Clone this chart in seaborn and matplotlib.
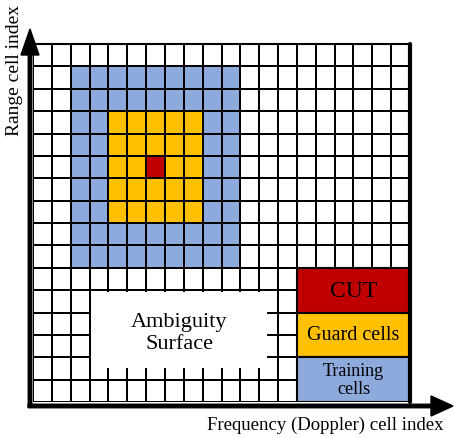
import numpy as np
import pandas as pd
import matplotlib
matplotlib.use("Agg")
import matplotlib.pyplot as plt
from matplotlib.colors import ListedColormap
from matplotlib.patches import Rectangle, FancyArrow
import seaborn as sns

# grid of range x doppler cells
n_rows = 16
n_cols = 20
cut_cell = (5, 6)        # (row, col) of the cell under test
guard_radius = 2         # guard cells each side of CUT
training_radius = 4      # training cells reach this far from CUT

legend_labels = ["CUT", "Guard cells", "Training\ncells"]
legend_codes = [3, 2, 1]
cell_colors = ["white", "#8EA9DB", "#FFC000", "#C00000"]

x_label = "Frequency (Doppler) cell index"
y_label = "Range cell index"
surface_label = "Ambiguity\nSurface"


def build_grid():
    grid = np.zeros((n_rows, n_cols), dtype=int)
    r0, c0 = cut_cell
    grid[r0 - training_radius:r0 + training_radius + 1,
         c0 - training_radius:c0 + training_radius + 1] = 1
    grid[r0 - guard_radius:r0 + guard_radius + 1,
         c0 - guard_radius:c0 + guard_radius + 1] = 2
    grid[r0, c0] = 3
    return pd.DataFrame(grid)


def main():
    sns.set_theme(style="white")
    plt.rcParams['font.family'] = ['Liberation Serif', 'DejaVu Serif']
    plt.rcParams['text.color'] = 'black'

    W, H = 455, 439
    fig = plt.figure(figsize=(W / 100, H / 100), dpi=100)

    # axes placed in pixel terms of the reference
    left, right, top, bottom = 33, 410, 45, 403
    ax = fig.add_axes([left / W, 1 - bottom / H, (right - left) / W, (bottom - top) / H])

    df = build_grid()
    sns.heatmap(df, ax=ax, cmap=ListedColormap(cell_colors), vmin=-0.5, vmax=3.5,
                cbar=False, linewidths=1.4, linecolor="black",
                xticklabels=False, yticklabels=False, square=False)
    ax.set_xlim(0, n_cols)
    ax.set_ylim(n_rows, 0)
    for side in ["top", "right", "left", "bottom"]:
        ax.spines[side].set_visible(False)
    ax.plot([n_cols, n_cols], [0, n_rows], color="black", lw=3, clip_on=False, zorder=5)
    ax.plot([0, n_cols], [0, 0], color="black", lw=1.5, clip_on=False, zorder=5)

    # blank region with the "Ambiguity Surface" caption
    ax.add_patch(Rectangle((3.1, 11.08), 9.3, 3.42, facecolor="white",
                           edgecolor="none", zorder=4))
    ax.text(7.75, 12.9, surface_label, ha="center", va="center", color="black",
            fontsize=16, linespacing=1.2, zorder=6)

    # legend blocks at bottom right
    lx0, lw, lh = 14, 6, 2
    for i, (lab, code) in enumerate(zip(legend_labels, legend_codes)):
        y0 = 10 + i * lh
        ax.add_patch(Rectangle((lx0, y0), lw, lh, facecolor=cell_colors[code],
                               edgecolor="black", lw=1.5, zorder=4))
        fs = 17 if lab == "CUT" else (14.5 if lab == "Guard cells" else 13)
        ax.text(lx0 + lw / 2, y0 + lh / 2, lab, ha="center", va="center",
                color="black", fontsize=fs, linespacing=1.05, zorder=6)

    # axis arrows in pixel space
    ov = fig.add_axes([0, 0, 1, 1], facecolor="none")
    ov.set_xlim(0, W)
    ov.set_ylim(H, 0)
    ov.axis("off")
    ov.add_patch(FancyArrow(30, 407, 0, -377, width=3.5, head_width=18,
                            head_length=26, length_includes_head=True,
                            color="black"))
    ov.add_patch(FancyArrow(28, 407, 425, 0, width=3.5, head_width=20,
                            head_length=22, length_includes_head=True,
                            color="black"))
    ov.text(15, 70, y_label, rotation=90, ha="center", va="center",
            color="black", fontsize=14)
    ov.text(325, 425, x_label, ha="center", va="center",
            color="black", fontsize=13.5)

    fig.savefig("out.png", dpi=100)


if __name__ == "__main__":
    main()
